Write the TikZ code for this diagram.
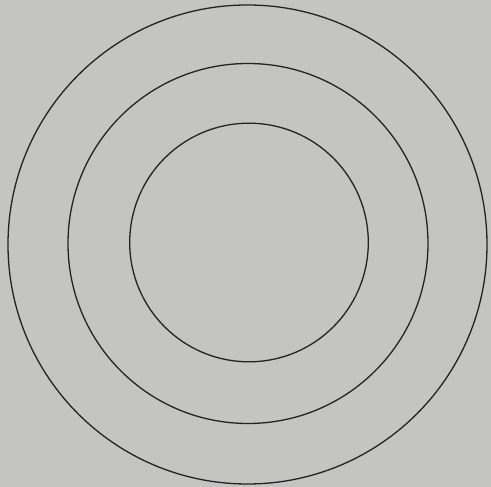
\documentclass[tikz,border=0pt]{standalone}
\definecolor{paper}{RGB}{196,196,192}
\definecolor{ink}{RGB}{35,35,38}
\begin{document}
\begin{tikzpicture}[x=1pt,y=1pt,ring/.style={draw=ink,line width=1.3pt}]
\fill[paper] (0,0) rectangle (491,487);
\useasboundingbox (0,0) rectangle (491,487);
\draw[ring] (247.5,242.5) circle (239.5);
\draw[ring] (248,243.5) circle (180);
\draw[ring] (249,244.5) circle (119.3);
\end{tikzpicture}
\end{document}
